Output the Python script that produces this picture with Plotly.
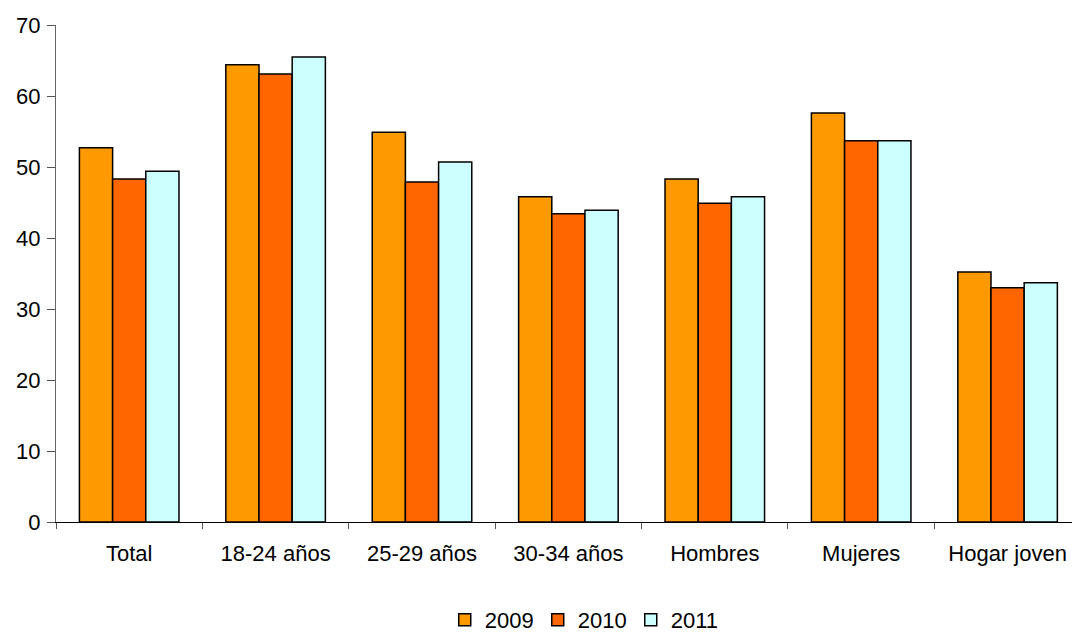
import plotly.graph_objects as go

categories = ["Total", "18-24 años", "25-29 años", "30-34 años", "Hombres", "Mujeres", "Hogar joven"]
years = ["2009", "2010", "2011"]
v2009 = [52.7, 64.4, 54.9, 45.8, 48.3, 57.6, 35.2]
v2010 = [48.3, 63.1, 47.9, 43.4, 44.9, 53.7, 33.0]
v2011 = [49.4, 65.5, 50.7, 43.9, 45.8, 53.7, 33.7]
colors = ["#FF9900", "#FF6600", "#CCFFFF"]
y_ticks = [0, 10, 20, 30, 40, 50, 60, 70]

FONT = "Liberation Sans, Arial, sans-serif"
FS = 22

fig = go.Figure()
for name, vals, c in zip(years, [v2009, v2010, v2011], colors):
    fig.add_trace(go.Bar(x=categories, y=vals, name=name,
                         marker=dict(color=c, line=dict(color="black", width=1.5))))

fig.update_layout(
    width=1072, height=632,
    margin=dict(l=56, r=0, t=25, b=110, autoexpand=False),
    paper_bgcolor="white", plot_bgcolor="white",
    barmode="group", bargap=0.32, bargroupgap=0,
    font=dict(family=FONT, size=FS, color="black"),
    showlegend=True,
    legend=dict(orientation="h", x=0.545, xanchor="center", xref="container",
                y=12 / 632, yanchor="middle", yref="container",
                font=dict(family=FONT, size=FS, color="black"), itemwidth=30,
                entrywidth=48, entrywidthmode="pixels",
                traceorder="normal", tracegroupgap=0),
)
fig.update_xaxes(range=[-0.5, 6.44], showline=True, linecolor="black", linewidth=1,
                 ticks="outside", tickson="boundaries", ticklen=6, tickcolor="#555",
                 ticklabelstandoff=12, showgrid=False, automargin=False,
                 tickfont=dict(family=FONT, size=FS, color="black"))
fig.update_yaxes(range=[0, 70], tickvals=y_ticks, showline=True, linecolor="#666", linewidth=1,
                 ticks="outside", ticklen=8, tickcolor="#555", showgrid=False, zeroline=False,
                 ticklabelstandoff=2, automargin=False,
                 tickfont=dict(family=FONT, size=FS, color="black"))

fig.write_html("out.html", config={"displayModeBar": False},
               post_script="document.body.style.margin='0';document.body.style.overflow='hidden';")
